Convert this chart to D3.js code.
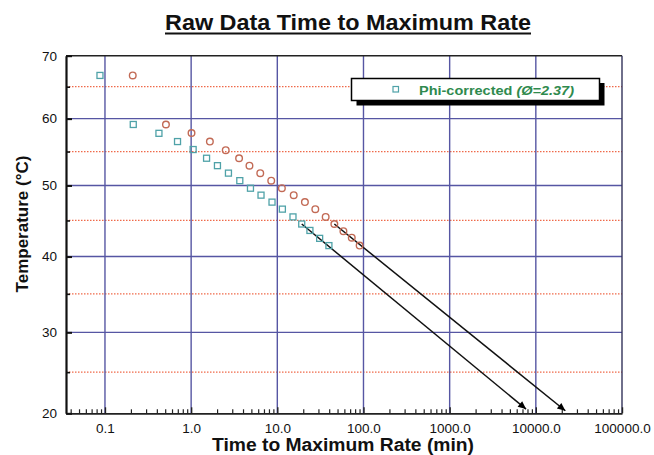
<!DOCTYPE html>
<html>
<head>
<meta charset="utf-8">
<script src="https://cdn.jsdelivr.net/npm/d3@7"></script>
<style>
  html, body { margin: 0; padding: 0; background: #fff; }
  svg { display: block; font-family: "Liberation Sans", Arial, sans-serif; }
</style>
</head>
<body>
<svg id="chart" width="654" height="455"></svg>
<script>
// Raw time to maximum rate (circles) and phi-corrected values (squares)
const rawTime = [0.21, 0.51, 1.01, 1.65, 2.52, 3.6, 4.75, 6.34, 8.5, 11.3, 15.5, 20.9, 27.6, 36.4, 45.9, 58.5, 73.1, 90.2];
const rawTemp = [66.8, 59.1, 57.8, 56.5, 55.2, 54.0, 52.9, 51.8, 50.7, 49.6, 48.6, 47.6, 46.6, 45.5, 44.5, 43.5, 42.6, 41.5];
const phiTime = [0.0875, 0.213, 0.423, 0.695, 1.055, 1.51, 2.02, 2.71, 3.67, 4.88, 6.47, 8.68, 11.45, 15.2, 19.2, 23.9, 31.0, 39.7];
const phiTemp = [66.8, 59.1, 57.75, 56.5, 55.3, 54.0, 52.9, 51.8, 50.7, 49.6, 48.6, 47.6, 46.6, 45.5, 44.5, 43.6, 42.5, 41.5];

// Extrapolation arrows down to ambient temperature
const arrowFromTime = [19.2, 45.9];
const arrowFromTemp = [44.5, 44.5];
const arrowToTime = [7700, 22000];
const arrowToTemp = [20.5, 20.3];

// Axis ticks
const tempMajor = [20, 30, 40, 50, 60, 70];
const tempMinor = [25, 35, 45, 55, 65];
const timeMajor = [0.1, 1, 10, 100, 1000, 10000, 100000];
const timeLabels = ["0.1", "1.0", "10.0", "100.0", "1000.0", "10000.0", "100000.0"];

const title = "Raw Data Time to Maximum Rate";
const xTitle = "Time to Maximum Rate (min)";
const yTitle = "Temperature (°C)";
const legendName = "Phi-corrected ";
const legendPhi = "(Ø=2.37)";

const svg = d3.select("#chart");
const L = 66, R = 622, T = 55.7, B = 413.3;

const x = d3.scaleLog().domain([0.0353, 100000]).range([L, R]);
// Temperature axis is linear in reciprocal absolute temperature
const invK = t => 1 / (t + 273.15);
const yInv = d3.scaleLinear().domain([invK(70), invK(20)]).range([T, B]);
const y = t => yInv(invK(t));

const gridCol = "#5656a3";
const dotCol = "#ef6a4a";

// Dotted half-step lines
svg.append("g").selectAll("line").data(tempMinor).join("line")
  .attr("x1", L).attr("x2", R)
  .attr("y1", d => y(d)).attr("y2", d => y(d))
  .attr("stroke", dotCol).attr("stroke-width", 1.2)
  .attr("stroke-dasharray", "1.5,1.5");

// Solid grid
svg.append("g").selectAll("line").data(tempMajor.filter(d => d > 20 && d < 70)).join("line")
  .attr("x1", L).attr("x2", R)
  .attr("y1", d => y(d)).attr("y2", d => y(d))
  .attr("stroke", gridCol).attr("stroke-width", 1.4);
svg.append("g").selectAll("line").data(timeMajor.filter(d => d < 100000)).join("line")
  .attr("x1", d => x(d)).attr("x2", d => x(d))
  .attr("y1", T).attr("y2", B)
  .attr("stroke", gridCol).attr("stroke-width", 1.4);

// Frame
svg.append("line").attr("x1", L).attr("x2", R).attr("y1", T).attr("y2", T)
  .attr("stroke", "#222").attr("stroke-width", 1.6);
svg.append("line").attr("x1", R).attr("x2", R).attr("y1", T).attr("y2", B)
  .attr("stroke", "#33335a").attr("stroke-width", 1.4);

// X axis (log, ticks inside)
const minorTimes = [];
for (let e = -2; e < 5; e++) for (let m = 2; m <= 9; m++) {
  const v = m * Math.pow(10, e);
  if (v >= x.domain()[0] && v <= x.domain()[1]) minorTimes.push(v);
}
const xAxis = svg.append("g").attr("transform", `translate(0,${B})`)
  .call(d3.axisBottom(x).tickValues(timeMajor).tickSizeInner(-6).tickSizeOuter(0)
    .tickFormat((d, i) => timeLabels[i]).tickPadding(10));
xAxis.select(".domain").attr("stroke", "#222").attr("stroke-width", 1.8);
xAxis.selectAll(".tick line").attr("stroke", "#222").attr("stroke-width", 1.4);
xAxis.selectAll(".tick text").attr("font-size", 13.5).attr("fill", "#111")
  .attr("font-family", "Liberation Sans, Arial, sans-serif");
svg.append("g").attr("transform", `translate(0,${B})`)
  .call(d3.axisBottom(x).tickValues(minorTimes).tickSizeInner(-4).tickSizeOuter(0).tickFormat(""))
  .call(g => g.select(".domain").remove())
  .selectAll(".tick line").attr("stroke", "#222").attr("stroke-width", 1.2);

// Y axis (ticks inside)
const yAxis = svg.append("g").attr("transform", `translate(${L},0)`)
  .call(d3.axisLeft(yInv).tickValues(tempMajor.map(invK)).tickSizeInner(-6).tickSizeOuter(0)
    .tickFormat(v => Math.round(1 / v - 273.15)).tickPadding(9));
yAxis.select(".domain").attr("stroke", "#111").attr("stroke-width", 2.2);
yAxis.selectAll(".tick line").attr("stroke", "#111").attr("stroke-width", 2);
yAxis.selectAll(".tick text").attr("font-size", 13.5).attr("fill", "#111")
  .attr("font-family", "Liberation Sans, Arial, sans-serif");
svg.append("g").attr("transform", `translate(${L},0)`)
  .call(d3.axisLeft(yInv).tickValues(tempMinor.map(invK)).tickSizeInner(-4).tickSizeOuter(0).tickFormat(""))
  .call(g => g.select(".domain").remove())
  .selectAll(".tick line").attr("stroke", "#111").attr("stroke-width", 1.6);

// Arrows
const defs = svg.append("defs");
defs.append("marker").attr("id", "arrowHead")
  .attr("viewBox", "0 0 10 10").attr("refX", 10).attr("refY", 5)
  .attr("markerUnits", "userSpaceOnUse").attr("markerWidth", 10).attr("markerHeight", 8)
  .attr("orient", "auto")
  .append("path").attr("d", "M0,0.5 L10,5 L0,9.5 Z").attr("fill", "#000");
svg.append("g").selectAll("line").data(arrowFromTime).join("line")
  .attr("x1", (d, i) => x(d)).attr("y1", (d, i) => y(arrowFromTemp[i]))
  .attr("x2", (d, i) => x(arrowToTime[i])).attr("y2", (d, i) => y(arrowToTemp[i]))
  .attr("stroke", "#111").attr("stroke-width", 1.5)
  .attr("marker-end", "url(#arrowHead)");

// Raw data circles
svg.append("g").selectAll("circle").data(rawTime).join("circle")
  .attr("cx", d => x(d)).attr("cy", (d, i) => y(rawTemp[i])).attr("r", 3.3)
  .attr("fill", "none").attr("stroke", "#c26a55").attr("stroke-width", 1.4);

// Phi-corrected squares
const sq = 6;
svg.append("g").selectAll("rect").data(phiTime).join("rect")
  .attr("x", d => x(d) - sq / 2).attr("y", (d, i) => y(phiTemp[i]) - sq / 2)
  .attr("width", sq).attr("height", sq)
  .attr("fill", "none").attr("stroke", "#4fa2a8").attr("stroke-width", 1.3);

// Legend
const lg = svg.append("g");
lg.append("rect").attr("x", 356.5).attr("y", 83).attr("width", 248).attr("height", 22.5).attr("fill", "#000");
lg.append("rect").attr("x", 351.5).attr("y", 78.5).attr("width", 248).attr("height", 22).attr("fill", "#fff")
  .attr("stroke", "#000").attr("stroke-width", 1.5);
lg.append("rect").attr("x", 393).attr("y", 86.5).attr("width", 5.5).attr("height", 5.5)
  .attr("fill", "none").attr("stroke", "#4fa2a8").attr("stroke-width", 1.2);
const lt = lg.append("text").attr("x", 419).attr("y", 94.8).attr("font-size", 13.5)
  .attr("font-weight", "bold").attr("fill", "#2f8a4e")
  .attr("textLength", 155).attr("lengthAdjust", "spacingAndGlyphs");
lt.append("tspan").text(legendName);
lt.append("tspan").attr("font-style", "italic").text(legendPhi);

// Titles
const tt = svg.append("text").attr("x", 348).attr("y", 30).attr("text-anchor", "middle")
  .attr("font-size", 21.5).attr("font-weight", "bold").attr("fill", "#111")
  .attr("textLength", 366).attr("lengthAdjust", "spacingAndGlyphs").text(title);
svg.append("line").attr("x1", 348 - 183).attr("x2", 348 + 183).attr("y1", 33.5).attr("y2", 33.5)
  .attr("stroke", "#111").attr("stroke-width", 2);

svg.append("text").attr("x", 343).attr("y", 451).attr("text-anchor", "middle")
  .attr("font-size", 17.5).attr("font-weight", "bold").attr("fill", "#111")
  .attr("textLength", 262).attr("lengthAdjust", "spacingAndGlyphs").text(xTitle);
svg.append("text").attr("transform", "translate(28,224) rotate(-90)").attr("text-anchor", "middle")
  .attr("font-size", 17).attr("font-weight", "bold").attr("fill", "#111").text(yTitle);
</script>
</body>
</html>
